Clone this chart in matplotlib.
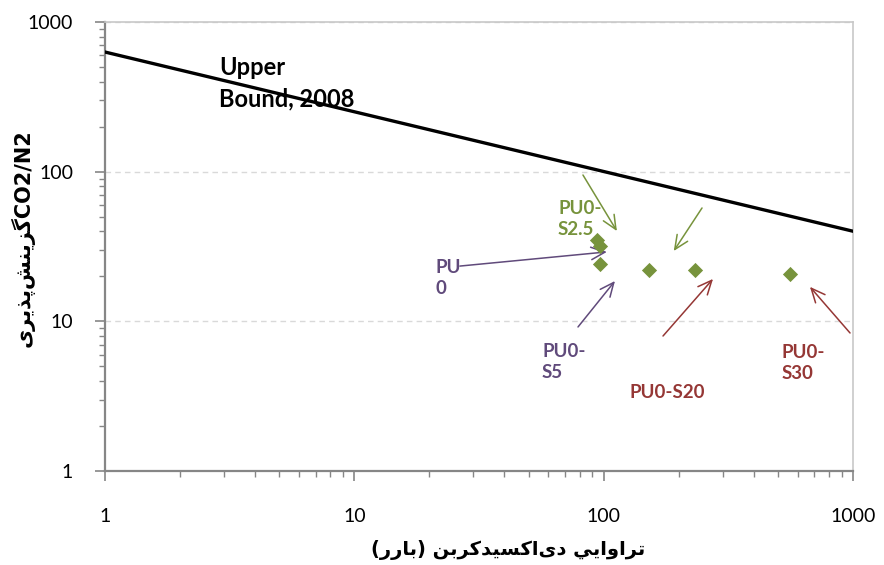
import matplotlib
matplotlib.use("Agg")
import matplotlib.pyplot as plt
from matplotlib.ticker import LogLocator, FixedLocator, NullFormatter

# ---------------- data ----------------
bound_x = [1, 1000]
bound_y = [630, 40]

pts_x = [94, 97, 97, 152, 233, 561]
pts_y = [35, 32, 24, 22, 22, 20.7]

ticks = [1, 10, 100, 1000]
tick_labels = ["1", "10", "100", "1000"]

# annotation arrows: tail -> head, colour key
arrow_tail_x = [82.6, 248, 26.5, 78.9, 173, 973]
arrow_tail_y = [95, 57.2, 23.4, 9.17, 7.98, 8.36]
arrow_head_x = [113, 191, 103, 111, 274.5, 672]
arrow_head_y = [40.1, 29.5, 29.1, 18.6, 19.2, 17.0]
arrow_col = ["green", "green", "purple", "purple", "red", "red"]

labels = ["PU0-\nS2.5", "PU\n0", "PU0-\nS5", "PU0-S20", "PU0-\nS30"]
label_x = [65.6, 21.1, 56.6, 127.5, 519]
label_y = [48.3, 19.5, 5.35, 3.37, 5.27]
label_col = ["green", "purple", "purple", "red", "red"]

bound_label = "Upper\nBound, 2008"
bound_label_x = 2.87
bound_label_y = 391

xlabel_fa = "تراوايي دى\u200cاكسيدكربن (بارر)"
ylabel_fa = "گزينش\u200cپذيرى"
ylabel_en = "CO2/N2"

COLORS = {"green": "#77933C", "purple": "#604A7B", "red": "#953735", "black": "#000000"}

# ------------- simple Arabic shaping (presentation forms + visual order) -------------
FORMS = {
    'ا': ('\uFE8D', '\uFE8E', None, None),
    'ب': ('\uFE8F', '\uFE90', '\uFE91', '\uFE92'),
    'پ': ('\uFB56', '\uFB57', '\uFB58', '\uFB59'),
    'ت': ('\uFE95', '\uFE96', '\uFE97', '\uFE98'),
    'د': ('\uFEA9', '\uFEAA', None, None),
    'ذ': ('\uFEAB', '\uFEAC', None, None),
    'ر': ('\uFEAD', '\uFEAE', None, None),
    'ز': ('\uFEAF', '\uFEB0', None, None),
    'س': ('\uFEB1', '\uFEB2', '\uFEB3', '\uFEB4'),
    'ش': ('\uFEB5', '\uFEB6', '\uFEB7', '\uFEB8'),
    'ك': ('\uFED9', '\uFEDA', '\uFEDB', '\uFEDC'),
    'گ': ('\uFB92', '\uFB93', '\uFB94', '\uFB95'),
    'ن': ('\uFEE5', '\uFEE6', '\uFEE7', '\uFEE8'),
    'و': ('\uFEED', '\uFEEE', None, None),
    'ي': ('\uFEF1', '\uFEF2', '\uFEF3', '\uFEF4'),
    'ى': ('\uFEEF', '\uFEF0', None, None),
}


def dual(c):
    return c in FORMS and FORMS[c][2] is not None


def shape(s):
    out = []
    n = len(s)
    for i, c in enumerate(s):
        if c == '\u200c':
            continue
        if c not in FORMS:
            out.append(c)
            continue
        prev = s[i - 1] if i > 0 else ''
        nxt = s[i + 1] if i + 1 < n else ''
        jp = dual(prev)
        jn = dual(c) and nxt in FORMS
        iso, fin, ini, med = FORMS[c]
        if jp and jn:
            out.append(med)
        elif jp:
            out.append(fin)
        elif jn:
            out.append(ini)
        else:
            out.append(iso)
    res = ''.join(out)[::-1]
    res = res.translate(str.maketrans('()', ')('))
    return res


plt.rcParams['font.family'] = ['Lato', 'DejaVu Sans']

fig = plt.figure(figsize=(8.84, 5.65), dpi=100)
ax = fig.add_axes([105 / 884, 1 - 471 / 565, (853 - 105) / 884, (471 - 22) / 565])

ax.set_xscale('log')
ax.set_yscale('log')
ax.set_xlim(1, 1000)
ax.set_ylim(1, 1000)

ax.plot(bound_x, bound_y, color='black', lw=2.4, zorder=3)
ax.scatter(pts_x, pts_y, marker='D', s=60, color='#77933C', zorder=4, linewidths=0)

for tx, ty, hx, hy, c in zip(arrow_tail_x, arrow_tail_y, arrow_head_x, arrow_head_y, arrow_col):
    ax.annotate('', xy=(hx, hy), xytext=(tx, ty),
                arrowprops=dict(arrowstyle='->,head_length=1.0,head_width=0.45',
                                color=COLORS[c], lw=1.1, shrinkA=0, shrinkB=0))

for t, x, y, c in zip(labels, label_x, label_y, label_col):
    ax.text(x, y, t, color=COLORS[c], fontsize=13.5, fontweight='bold',
            ha='left', va='center', linespacing=1.33)

ax.text(bound_label_x, bound_label_y, bound_label, color='black', fontsize=17,
        fontweight='bold', ha='left', va='center', linespacing=1.42, zorder=2)

ax.yaxis.grid(True, which='major', color='#D9D9D9', ls=(0, (4, 3)), lw=1)
ax.set_axisbelow(True)

ax.xaxis.set_major_locator(FixedLocator(ticks))
ax.yaxis.set_major_locator(FixedLocator(ticks))
ax.set_xticklabels(tick_labels)
ax.set_yticklabels(tick_labels)
ax.xaxis.set_minor_locator(LogLocator(base=10, subs=range(2, 10)))
ax.yaxis.set_minor_locator(LogLocator(base=10, subs=range(2, 10)))
ax.xaxis.set_minor_formatter(NullFormatter())
ax.yaxis.set_minor_formatter(NullFormatter())

ax.tick_params(which='major', length=7, width=1.2, color='#868686', labelsize=14)
ax.tick_params(axis='x', which='major', pad=20)
ax.tick_params(axis='y', which='major', pad=16)
ax.tick_params(which='minor', length=4, width=1.0, color='#868686')

for s in ['left', 'bottom']:
    ax.spines[s].set_color('#868686')
    ax.spines[s].set_linewidth(1.6)
for s in ['top', 'right']:
    ax.spines[s].set_color('#C8C8C8')
    ax.spines[s].set_linewidth(1.2)

ax.set_xlabel(shape(xlabel_fa), fontsize=14, fontweight='bold',
              family=['DejaVu Sans'], va='center')
ax.xaxis.set_label_coords((508 - 105) / 748, (471 - 550) / 449)
ylab = shape(ylabel_fa) + ylabel_en
ax.set_ylabel(ylab, fontsize=15, fontweight='bold', family=['DejaVu Sans'], va='center')
ax.yaxis.set_label_coords((23 - 105) / 748, (471 - 238) / 449)

fig.savefig('out.png', dpi=100)
